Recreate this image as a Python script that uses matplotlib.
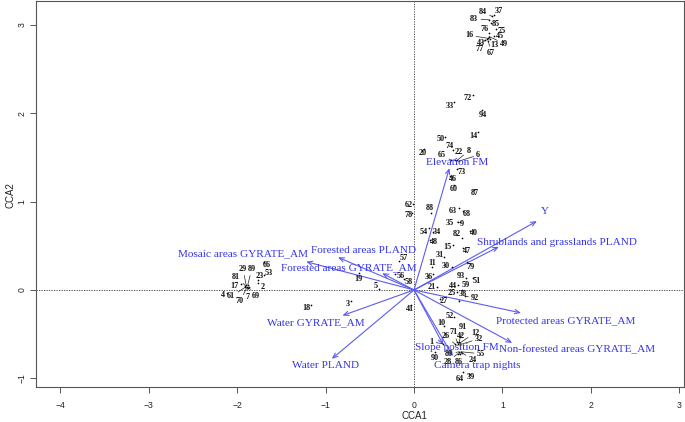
import matplotlib
matplotlib.use("Agg")
import matplotlib.pyplot as plt

# ---------------- data ----------------
site_ids = [84, 37, 83, 85, 76, 75, 16, 45, 43, 13, 49, 77, 67,
            72, 33, 94, 50, 14, 20, 74, 22, 8, 65, 6, 73, 46, 60, 87,
            62, 78, 88, 63, 68, 35, 9, 82, 40, 54, 34, 48, 15, 47, 31, 11, 30, 79,
            36, 93, 51, 21, 44, 59, 25, 38, 92, 27,
            52, 10, 71, 91, 26, 42, 12, 32, 1, 90, 80, 55, 28, 86, 24, 64, 39,
            66, 29, 89, 81, 23, 53, 2, 17, 4, 61, 70, 7, 69,
            18, 3, 41, 19, 5, 57, 56, 58]
site_x = [0.88, 0.90, 0.85, 0.87, 0.85, 0.93, 0.84, 0.90, 0.83, 0.86, 0.85, 0.80, 0.84,
          0.67, 0.45, 0.77, 0.35, 0.72, 0.11, 0.44, 0.46, 0.49, 0.42, 0.51, 0.49, 0.41, 0.45, 0.68,
          -0.01, -0.02, 0.19, 0.51, 0.55, 0.50, 0.52, 0.54, 0.63, 0.17, 0.21, 0.18, 0.44, 0.55, 0.34, 0.20, 0.43, 0.60,
          0.21, 0.59, 0.67, 0.26, 0.50, 0.54, 0.49, 0.51, 0.58, 0.29,
          0.45, 0.34, 0.49, 0.51, 0.46, 0.50, 0.52, 0.52, 0.33, 0.24, 0.51, 0.53, 0.50, 0.52, 0.54, 0.55, 0.62,
          -1.70, -1.90, -1.88, -1.91, -1.76, -1.70, -1.76, -1.96, -2.12, -1.91, -1.89, -1.88, -1.87,
          -1.17, -0.71, -0.03, -0.62, -0.40, -0.17, -0.21, -0.11]
site_y = [3.10, 3.11, 3.06, 3.02, 2.91, 2.96, 2.85, 2.88, 2.84, 2.84, 2.87, 2.83, 2.82,
          2.21, 2.13, 2.04, 1.73, 1.79, 1.60, 1.59, 1.47, 1.47, 1.47, 1.46, 1.37, 1.29, 1.19, 1.13,
          0.97, 0.87, 0.87, 0.93, 0.89, 0.77, 0.77, 0.59, 0.67, 0.70, 0.66, 0.57, 0.51, 0.48, 0.37, 0.26, 0.26, 0.32,
          0.18, 0.14, 0.14, 0.03, 0.06, 0.00, -0.02, -0.12, -0.07, -0.10,
          -0.31, -0.41, -0.59, -0.59, -0.61, -0.61, -0.60, -0.62, -0.61, -0.70, -0.70, -0.70, -0.72, -0.72, -0.71, -0.93, -0.95,
          0.32, 0.06, 0.06, 0.05, 0.11, 0.17, 0.08, 0.07, -0.03, 0.03, 0.03, 0.02, 0.03,
          -0.17, -0.12, -0.17, 0.19, 0.01, 0.33, 0.18, 0.12]

env_names = ["Y", "Shrublands and grasslands PLAND", "Protected areas GYRATE_AM",
             "Non-forested areas GYRATE_AM", "Camera trap nights", "Slope position FM",
             "Elevation FM", "Water PLAND", "Water GYRATE_AM", "Mosaic areas GYRATE_AM",
             "Forested areas PLAND", "Forested areas GYRATE_AM"]
env_x = [1.39, 0.96, 1.21, 1.11, 0.44, 0.33, 0.40, -0.93, -0.81, -1.22, -0.86, -0.36]
env_y = [0.78, 0.49, -0.26, -0.60, -0.75, -0.62, 1.38, -0.78, -0.29, 0.32, 0.37, 0.19]

# ---------------- layout (label offsets, pixels) ----------------
site_label_off = [(-9, 4), (5, 4), (-15, 1), (5, -1), (-5, 4), (5, -2), (-19, 3), (6, 0), (-6, -4), (4, -6), (15, -7), (-5, -9), (3, -12),
                  (-6, -3), (-4, -4), (1, -5), (-4, -2), (-4, -4), (-1, -4), (-3, 4), (4, 8), (11, 9), (-9, 5), (19, 6), (4, -3), (3, -3), (0, -4), (1, -3),
                  (-4, -1), (-4, -2), (-1, 5), (-6, -3), (4, -3), (-8, -1), (2, -2), (-5, 4), (4, -2), (-5, -4), (4, 0), (4, -2), (-5, -2), (4, -3), (-4, 2), (0, 4), (-6, 1), (4, -5),
                  (-4, -3), (-5, 2), (4, -3), (-5, 0), (-5, -1), (4, 5), (-6, -1), (4, 7), (10, -2), (4, -2),
                  (-4, 1), (-3, 3), (-4, 10), (4, 15), (-9, 8), (3, 8), (15, 10), (19, 6), (-12, 2), (0, -6), (-10, -2), (20, -2), (-11, -8), (-1, -8), (11, -7), (-3, -7), (2, -3),
                  (3, -3), (-3, 16), (4, 16), (-9, 9), (1, 4), (5, 2), (4, -4), (-6, -2), (-4, -2), (-14, -9), (-7, -14), (0, -9), (7, -9),
                  (-4, -3), (-3, -3), (-1, -4), (-1, -6), (-3, 3), (5, 3), (5, -2), (4, -3)]
env_label_pos = [(1.48, 0.89), (1.62, 0.54), (1.72, -0.35), (1.84, -0.67), (0.71, -0.86),
                 (0.49, -0.65), (0.49, 1.44), (-1.00, -0.86), (-1.11, -0.37), (-1.93, 0.41),
                 (-0.57, 0.45), (-0.74, 0.25)]

W, H, DPI = 685, 422, 100
fig = plt.figure(figsize=(W / DPI, H / DPI), dpi=DPI)
ax = fig.add_axes([36 / W, (H - 387) / H, (684 - 36) / W, (387 - 1) / H])
ax.set_xlim(-4.276, 3.054)
ax.set_ylim(-1.099, 3.273)

axis_font = "Liberation Sans"
serif = "Liberation Serif"

ax.axhline(0, color="#333333", lw=0.6, ls=(0, (1.5, 1.5)), zorder=1)
ax.axvline(0, color="#333333", lw=0.6, ls=(0, (1.5, 1.5)), zorder=1)

# sites
ax.scatter(site_x, site_y, s=1.5, color="black", zorder=3, linewidths=0)
for sid, x, y, (dx, dy) in zip(site_ids, site_x, site_y, site_label_off):
    far = (dx * dx + dy * dy) > 60
    ax.annotate(str(sid), xy=(x, y), xytext=(dx * 1.0, dy * 1.0),
                textcoords="offset pixels", ha="center", va="center",
                fontsize=5.9, family=serif, fontweight="bold", color="#111111",
                arrowprops=(dict(arrowstyle="-", lw=0.5, color="#222222",
                                 shrinkA=0, shrinkB=0) if far else None),
                zorder=4)

# environmental arrows
arrow_col = "#5c5cf2"
text_col = "#3434ee"
for name, x, y, (lx, ly) in zip(env_names, env_x, env_y, env_label_pos):
    ax.annotate("", xy=(x, y), xytext=(0, 0),
                arrowprops=dict(arrowstyle="->,head_length=0.35,head_width=0.15",
                                lw=0.8, color=arrow_col, shrinkA=0, shrinkB=0),
                zorder=2)
    ax.text(lx, ly, name, ha="center", va="center", fontsize=8.1,
            family=serif, color=text_col, zorder=5)

# axes styling, R-like
for sp in ax.spines.values():
    sp.set_color("#555555")
    sp.set_linewidth(0.8)
ax.set_xticks([-4, -3, -2, -1, 0, 1, 2, 3])
ax.set_yticks([-1, 0, 1, 2, 3])
ax.tick_params(direction="out", length=4, width=0.7, colors="#555555",
               labelsize=6.2, labelcolor="#222222")
ax.tick_params(axis="x", pad=6)
ax.tick_params(axis="y", pad=3)
for lab in ax.get_xticklabels():
    lab.set_family(axis_font)
for lab in ax.get_yticklabels():
    lab.set_family(axis_font)
    lab.set_rotation(90)
    lab.set_va("center")
fig.text(414 / W, (H - 416) / H, "CCA1", ha="center", va="center",
         fontsize=7, family=axis_font, color="#222222")
fig.text(11 / W, (H - 195) / H, "CCA2", ha="center", va="center", rotation=90,
         fontsize=7, family=axis_font, color="#222222")

fig.savefig("out.png", dpi=DPI)
